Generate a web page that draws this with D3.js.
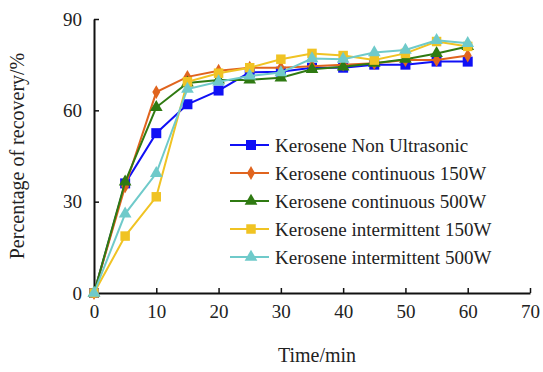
<!DOCTYPE html>
<meta charset="utf-8">
<script src="https://d3js.org/d3.v7.min.js"></script>
<style>
  body { margin: 0; background: #fff; }
</style>
<div id="chart"></div>
<script>
  var width = 543, height = 372;
  var margin = {left: 94, right: 13, top: 19, bottom: 79};
  var serif = "Liberation Serif";

  var times = [0, 5, 10, 15, 20, 25, 30, 35, 40, 45, 50, 55, 60];
  var nonUltrasonic = [0, 36, 52.5, 62, 66.5, 72.5, 72.7, 74, 74, 75, 75, 76, 76];
  var continuous150 = [0, 35, 66, 71, 73, 74, 74, 74.5, 75, 75.5, 76.5, 76.5, 78];
  var continuous500 = [0, 36.5, 61, 69, 70, 70, 70.7, 73.5, 74.3, 75.5, 76.8, 78.7, 81];
  var intermittent150 = [0, 18.7, 31.6, 69.4, 72.2, 74, 76.8, 78.7, 78, 76.5, 78.7, 82.6, 81];
  var intermittent500 = [0, 26, 39.3, 67, 69.4, 71.3, 72.4, 77, 76.8, 79, 79.8, 83, 82];
  var xTicks = [0, 10, 20, 30, 40, 50, 60, 70];
  var yTicks = [0, 30, 60, 90];

  var series = [
    {name: "Kerosene Non Ultrasonic", values: nonUltrasonic, color: "#1010f5", shape: d3.symbolSquare, size: 100},
    {name: "Kerosene continuous 150W", values: continuous150, color: "#e0641e", shape: d3.symbolDiamond, size: 55},
    {name: "Kerosene continuous 500W", values: continuous500, color: "#2f7a12", shape: d3.symbolTriangle, size: 70},
    {name: "Kerosene intermittent 150W", values: intermittent150, color: "#f0c323", shape: d3.symbolSquare, size: 90},
    {name: "Kerosene intermittent 500W", values: intermittent500, color: "#6fcaca", shape: d3.symbolTriangle, size: 70}
  ];

  var svg = d3.select("#chart").append("svg")
    .attr("width", width)
    .attr("height", height)
    .attr("font-family", serif);

  var x = d3.scaleLinear().domain([0, 70]).range([margin.left, width - margin.right]);
  var y = d3.scaleLinear().domain([0, 90]).range([height - margin.bottom, margin.top]);

  // axes, ticks point inward
  var xAxis = svg.append("g")
    .attr("transform", "translate(0," + y(0) + ")")
    .call(d3.axisBottom(x).tickValues(xTicks).tickSizeInner(-5).tickSizeOuter(0).tickPadding(12));
  var yAxis = svg.append("g")
    .attr("transform", "translate(" + x(0) + ",0)")
    .call(d3.axisLeft(y).tickValues(yTicks).tickSizeInner(-5).tickSizeOuter(0).tickPadding(12));

  [xAxis, yAxis].forEach(function (g) {
    g.attr("font-family", serif).attr("font-size", 19);
    g.select(".domain").attr("stroke", "#111").attr("stroke-width", 2);
    g.selectAll(".tick line").attr("stroke", "#111").attr("stroke-width", 1.5);
    g.selectAll(".tick text").attr("fill", "#222");
  });

  var line = d3.line()
    .x(function (d, i) { return x(times[i]); })
    .y(function (d) { return y(d); });

  series.forEach(function (s) {
    var g = svg.append("g");
    g.append("path")
      .datum(s.values)
      .attr("fill", "none")
      .attr("stroke", s.color)
      .attr("stroke-width", 2)
      .attr("d", line);
    g.selectAll("path.pt")
      .data(s.values)
      .enter().append("path")
      .attr("class", "pt")
      .attr("transform", function (d, i) { return "translate(" + x(times[i]) + "," + y(d) + ")"; })
      .attr("d", d3.symbol().type(s.shape).size(s.size))
      .attr("fill", s.color);
  });

  // legend
  var legend = svg.append("g").attr("transform", "translate(230,145)");
  series.forEach(function (s, i) {
    var row = legend.append("g").attr("transform", "translate(0," + (i * 28) + ")");
    row.append("line").attr("x1", 0).attr("x2", 39).attr("y1", 0).attr("y2", 0)
      .attr("stroke", s.color).attr("stroke-width", 2);
    row.append("path").attr("transform", "translate(21,0)")
      .attr("d", d3.symbol().type(s.shape).size(s.size)).attr("fill", s.color);
    row.append("text").attr("x", 45).attr("dy", "0.35em")
      .attr("font-size", 19).attr("fill", "#222").text(s.name);
  });

  svg.append("text")
    .attr("x", x(35) + 5).attr("y", 362)
    .attr("text-anchor", "middle")
    .attr("font-size", 20).attr("fill", "#222")
    .text("Time/min");

  svg.append("text")
    .attr("transform", "translate(24," + y(45) + ") rotate(-90)")
    .attr("text-anchor", "middle")
    .attr("font-size", 20).attr("fill", "#222")
    .text("Percentage of recovery/%");
</script>
